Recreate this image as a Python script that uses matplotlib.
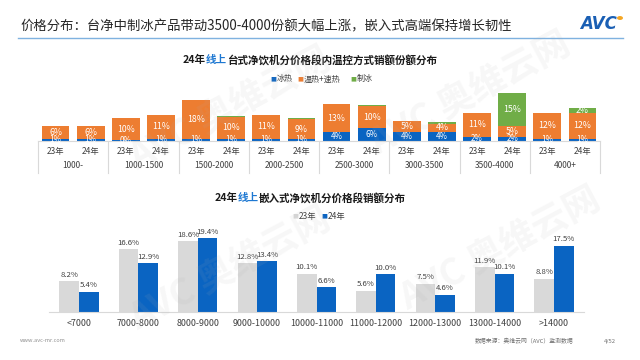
import numpy as np
import matplotlib
matplotlib.use('Agg')
import matplotlib.pyplot as plt
import matplotlib.transforms as mtransforms

plt.rcParams['font.family'] = ['Noto Sans CJK SC', 'DejaVu Sans']

# ---------------- 数据 ----------------
price_groups = ['1000-', '1000-1500', '1500-2000', '2000-2500',
                '2500-3000', '3000-3500', '3500-4000', '4000+']
years = ['23年', '24年']
# 每组两根柱: 23年, 24年
ice_hot = [1, 1, 0.4, 1, 1, 1, 1, 1, 4, 6, 4, 4, 2, 2, 1, 1]          # 冰热
warm_fast = [6, 6, 10, 11, 18, 10, 11, 9, 13, 10, 5, 4, 11, 5, 12, 12]  # 温热+速热
ice_make = [0, 0, 0, 0, 0, 0.5, 0, 0.5, 0, 0.5, 0, 0.5, 0, 15, 0, 2]    # 制冰

embed_cats = ['<7000', '7000-8000', '8000-9000', '9000-10000', '10000-11000',
              '11000-12000', '12000-13000', '13000-14000', '>14000']
embed_23 = [8.2, 16.6, 18.6, 12.8, 10.1, 5.6, 7.5, 11.9, 8.8]
embed_24 = [5.4, 12.9, 19.4, 13.4, 6.6, 10.0, 4.6, 10.1, 17.5]

title = '价格分布：台净中制冰产品带动3500-4000份额大幅上涨，嵌入式高端保持增长韧性'

BLUE = '#0a64c2'
ORANGE = '#ed7d31'
GREEN = '#70ad47'
GRAY = '#d9d9d9'
TXT = '#404040'

W, H = 640, 360
def fx(x): return x / W
def fy(y): return 1 - y / H

fig = plt.figure(figsize=(6.4, 3.6), dpi=100)
fig.patch.set_facecolor('white')

# 标题
fig.text(fx(20), fy(26), title, fontsize=9.6, color='#262626', va='center', ha='left')
fig.add_artist(plt.Line2D([fx(18), fx(623)], [fy(38), fy(38)], color='#7fb2e0', lw=1))
# logo
fig.text(fx(580), fy(24), 'AVC', fontsize=12, color='#1a5fb4', fontweight='bold',
         style='italic', va='center', ha='left', family='DejaVu Sans')
fig.add_artist(plt.Circle((fx(620), fy(18)), 0.0035, color='#f5a623', transform=fig.transFigure))


def after(t, s, color):
    # 接在前一段文字后面写
    fig.canvas.draw()
    bb = t.get_window_extent()
    return fig.text(bb.x1 / W, t.get_position()[1], s, fontsize=t.get_fontsize(),
                    fontweight='bold', color=color, va='center')


def legend_item(x, y, lab, c, size):
    fig.text(fx(x), fy(y), '■', color=c, fontsize=4.5, va='center', ha='left', family='DejaVu Sans')
    fig.text(fx(x + 6.5), fy(y), lab, color=TXT, fontsize=size, va='center', ha='left')


# 水印
for (x, y) in [(230, 110), (470, 95), (230, 270), (500, 250)]:
    fig.text(fx(x), fy(y), 'AVC 奥维云网', fontsize=26, fontweight='bold', color='#b0b0b0',
             alpha=0.1, rotation=28, ha='center', va='center', zorder=10)

# ================= 上图 =================
ax1 = fig.add_axes([fx(38), fy(141), fx(600) - fx(38), 53 / H])
n = len(price_groups)
xpos = np.array([[g + 0.25, g + 0.75] for g in range(n)]).ravel()
bw = 0.395
ice_hot = np.array(ice_hot)
warm_fast = np.array(warm_fast)
ice_make = np.array(ice_make)
ax1.bar(xpos, ice_hot, bw, color=BLUE)
ax1.bar(xpos, warm_fast, bw, bottom=ice_hot, color=ORANGE)
ax1.bar(xpos, ice_make, bw, bottom=ice_hot + warm_fast, color=GREEN)
for i, x in enumerate(xpos):
    ax1.text(x, ice_hot[i] / 2, f'{ice_hot[i]:.0f}%', color='white', fontsize=5.8,
             ha='center', va='center')
    ax1.text(x, ice_hot[i] + warm_fast[i] / 2, f'{warm_fast[i]:.0f}%', color='white',
             fontsize=6.3, ha='center', va='center')
    if ice_make[i] >= 1:
        ax1.text(x, ice_hot[i] + warm_fast[i] + ice_make[i] / 2, f'{ice_make[i]:.0f}%',
                 color='white', fontsize=6.3, ha='center', va='center')
ax1.set_xlim(0, n)
ax1.set_ylim(0, 24.3)
ax1.axis('off')
ax1.plot([0, n], [0, 0], color=GRAY, lw=0.8, clip_on=False)

tr1 = mtransforms.blended_transform_factory(ax1.transData, fig.transFigure)
for i, x in enumerate(xpos):
    ax1.text(x, fy(151), years[i % 2], transform=tr1, fontsize=6, color=TXT,
             ha='center', va='center')
for g, name in enumerate(price_groups):
    ax1.text(g + 0.5, fy(166), name, transform=tr1, fontsize=6, color=TXT,
             ha='center', va='center')
for g in range(n + 1):
    ax1.plot([g, g], [fy(141), fy(173)], transform=tr1, color=GRAY, lw=0.8, clip_on=False)

# 上图标题与图例
t1 = fig.text(fx(183), fy(60), '24年', fontsize=7.6, fontweight='bold', color='#1a1a1a', va='center')
t2 = after(t1, '线上', '#1e78d2')
after(t2, '台式净饮机分价格段内温控方式销额份额分布', '#1a1a1a')

for lab, c, x in [('冰热', BLUE, 270), ('温热+速热', ORANGE, 297), ('制冰', GREEN, 350)]:
    legend_item(x, 79, lab, c, 5.8)

# ================= 下图 =================
ax2 = fig.add_axes([fx(49.3), fy(312), fx(583.7) - fx(49.3), 82 / H])
m = len(embed_cats)
xs = np.arange(m)
bw2 = 0.33
ax2.bar(xs - bw2 / 2, embed_23, bw2, color=GRAY)
ax2.bar(xs + bw2 / 2, embed_24, bw2, color=BLUE)
for i in range(m):
    ax2.text(xs[i] - bw2 / 2, embed_23[i] + 0.6, f'{embed_23[i]:.1f}%', fontsize=5.6,
             color=TXT, ha='center', va='bottom')
    ax2.text(xs[i] + bw2 / 2, embed_24[i] + 0.6, f'{embed_24[i]:.1f}%', fontsize=5.6,
             color=TXT, ha='center', va='bottom')
ax2.set_xlim(-0.5, m - 0.5)
ax2.set_ylim(0, 21.6)
for s in ['top', 'right', 'left']:
    ax2.spines[s].set_visible(False)
ax2.spines['bottom'].set_color(GRAY)
ax2.set_yticks([])
ax2.set_xticks(xs)
ax2.set_xticklabels(embed_cats, fontsize=6.4, color=TXT)
ax2.tick_params(axis='x', length=0, pad=5)

t3 = fig.text(fx(215), fy(198), '24年', fontsize=7.6, fontweight='bold', color='#1a1a1a', va='center')
t4 = after(t3, '线上', '#1e78d2')
after(t4, '嵌入式净饮机分价格段销额分布', '#1a1a1a')

for lab, c, x in [('23年', GRAY, 292), ('24年', BLUE, 321)]:
    legend_item(x, 216, lab, c, 6)

# 页脚
fig.text(fx(20), fy(341), 'www.avc-mr.com', fontsize=4, color='#909090', va='center')
fig.text(fx(475), fy(341), '数据来源：奥维云网（AVC）监测数据', fontsize=4.2, color='#707070', va='center')
fig.text(fx(604), fy(341), '4/52', fontsize=4.2, color='#707070', va='center')

fig.savefig('out.png', dpi=100)
